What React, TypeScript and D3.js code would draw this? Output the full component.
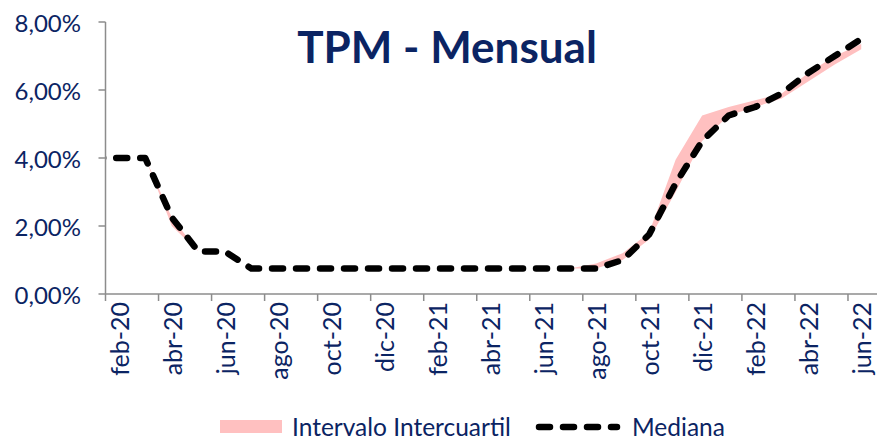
import React from 'react';
import * as d3 from 'd3';

// months (ene-20 sits left of the axis and is clipped, as in the original)
const months = [
  'ene-20', 'feb-20', 'mar-20', 'abr-20', 'may-20', 'jun-20', 'jul-20', 'ago-20', 'sep-20', 'oct-20',
  'nov-20', 'dic-20', 'ene-21', 'feb-21', 'mar-21', 'abr-21', 'may-21', 'jun-21', 'jul-21', 'ago-21',
  'sep-21', 'oct-21', 'nov-21', 'dic-21', 'ene-22', 'feb-22', 'mar-22', 'abr-22', 'may-22', 'jun-22',
];
const mediana = [
  4.0, 4.0, 4.0, 2.25, 1.25, 1.25, 0.75, 0.75, 0.75, 0.75,
  0.75, 0.75, 0.75, 0.75, 0.75, 0.75, 0.75, 0.75, 0.75, 0.75,
  1.0, 1.75, 3.25, 4.5, 5.25, 5.5, 5.9, 6.5, 7.0, 7.5,
];
const q1 = [
  4.0, 4.0, 4.0, 2.0, 1.25, 1.25, 0.75, 0.75, 0.75, 0.75,
  0.75, 0.75, 0.75, 0.75, 0.75, 0.75, 0.75, 0.75, 0.75, 0.75,
  1.0, 1.6, 3.0, 4.5, 5.25, 5.5, 5.75, 6.25, 6.75, 7.2,
];
const q3 = [
  4.0, 4.0, 4.0, 2.25, 1.25, 1.25, 0.75, 0.75, 0.75, 0.75,
  0.75, 0.75, 0.75, 0.75, 0.75, 0.75, 0.75, 0.75, 0.75, 0.9,
  1.2, 1.8, 3.95, 5.25, 5.5, 5.7, 5.9, 6.5, 7.0, 7.35,
];
const yTicks = [0, 2, 4, 6, 8];

const navy = '#0b2463';
const axisGray = '#8c8c8c';
const font = 'Lato, "Open Sans", sans-serif';

const App = () => {
  const left = 105.5;
  const right = 874.5;
  const top = 22;
  const bottom = 294;

  // index 1 (feb-20) is the first visible category
  const x = d3.scaleLinear().domain([0.5, months.length - 0.5]).range([left, right]);
  const y = d3.scaleLinear().domain([0, 8]).range([bottom, top]);

  const idx = months.map((_, i) => i);

  const area = d3
    .area<number>()
    .x((i) => x(i))
    .y0((i) => y(q1[i]))
    .y1((i) => y(q3[i]));

  const line = d3
    .line<number>()
    .x((i) => x(i))
    .y((i) => y(mediana[i]));

  const tickIdx = idx.filter((i) => i >= 1 && (i - 1) % 2 === 0);
  const fmt = (v: number) => v.toFixed(2).replace('.', ',') + '%';

  return (
    <svg width={877} height={441} style={{ position: 'absolute', left: 0, top: 0, background: '#fff' }}>
      <defs>
        <clipPath id="plot-clip">
          <rect x={left} y={0} width={right - left + 10} height={bottom + 10} />
        </clipPath>
      </defs>

      <text x={447} y={63} textAnchor="middle" fontFamily={font} fontWeight={700} fontSize={44} fill={navy}>
        TPM - Mensual
      </text>

      <g clipPath="url(#plot-clip)">
        <path d={area(idx) || ''} fill="#ffc0c0" />
        <path
          d={line(idx) || ''}
          fill="none"
          stroke="#000"
          strokeWidth={6.5}
          strokeDasharray="11 13"
          strokeLinecap="round"
          strokeLinejoin="round"
        />
      </g>

      {/* y axis */}
      <line x1={left} x2={left} y1={top} y2={bottom} stroke={axisGray} strokeWidth={1.5} />
      {yTicks.map((t) => (
        <g key={t}>
          <line x1={left - 7} x2={left} y1={y(t)} y2={y(t)} stroke={axisGray} strokeWidth={1.5} />
          <text
            x={81}
            y={y(t)}
            textAnchor="end"
            dominantBaseline="central"
            fontFamily={font}
            fontSize={24}
            fill={navy}
          >
            {fmt(t)}
          </text>
        </g>
      ))}

      {/* x axis */}
      <line x1={left} x2={877} y1={bottom} y2={bottom} stroke={axisGray} strokeWidth={1.5} />
      {tickIdx.map((i) => (
        <g key={months[i]}>
          <line x1={x(i - 0.5)} x2={x(i - 0.5)} y1={bottom} y2={bottom + 7} stroke={axisGray} strokeWidth={1.5} />
          <text
            transform={`translate(${x(i)}, 302) rotate(-90)`}
            textAnchor="end"
            dominantBaseline="central"
            fontFamily={font}
            fontSize={25}
            fill={navy}
          >
            {months[i]}
          </text>
        </g>
      ))}

      {/* legend */}
      <rect x={220} y={420} width={62} height={13} fill="#ffc0c0" />
      <text x={292} y={436} fontFamily={font} fontSize={24.5} fill={navy}>
        Intervalo Intercuartil
      </text>
      <line
        x1={539}
        x2={617}
        y1={427}
        y2={427}
        stroke="#000"
        strokeWidth={6.5}
        strokeDasharray="11 13"
        strokeLinecap="round"
      />
      <text x={632} y={436} fontFamily={font} fontSize={24.5} fill={navy}>
        Mediana
      </text>
    </svg>
  );
};

export default App;
